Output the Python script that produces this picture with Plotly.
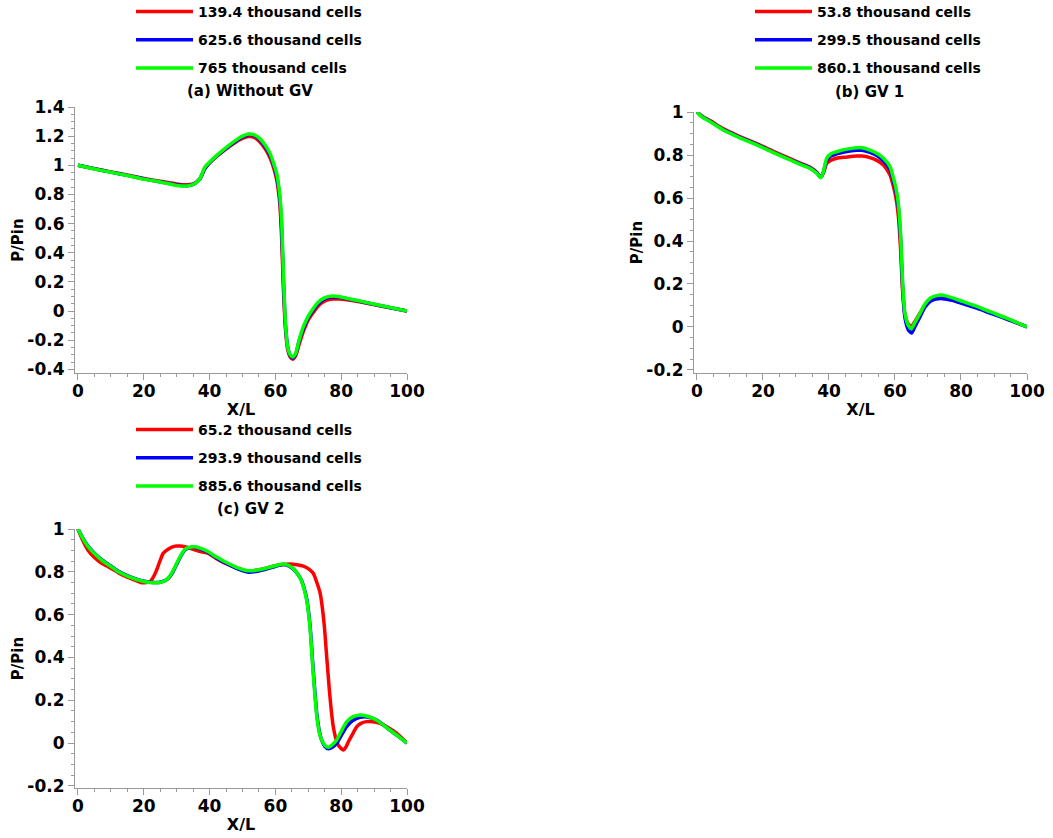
import plotly.graph_objects as go

# ---------------- data ----------------
# Panel (a) Without GV
a_names = ["139.4 thousand cells", "625.6 thousand cells", "765 thousand cells"]
a_x = [0, 5, 10, 15, 20, 25, 30, 33, 35, 37, 38.6, 41.1, 45.2, 48.7, 50, 51.8, 53, 54, 55.3, 57, 58.4,
       59.5, 60.4, 61.0, 61.4, 61.9, 62.4, 63.0, 63.7, 64.5, 65.3, 66.2, 67.2, 68.5, 70, 71.5, 73,
       74.6, 76, 77.6, 79.5, 81.7, 85, 89.8, 95, 100]
a_red = [1.0, 0.977, 0.955, 0.933, 0.91, 0.89, 0.872, 0.866, 0.872, 0.905, 0.98, 1.04, 1.115, 1.17,
         1.185, 1.198, 1.195, 1.185, 1.16, 1.11, 1.05, 0.98, 0.9, 0.81, 0.72, 0.5, 0.18, -0.1, -0.26,
         -0.315, -0.33, -0.305, -0.23, -0.14, -0.06, -0.01, 0.035, 0.063, 0.077, 0.083, 0.082, 0.077,
         0.066, 0.045, 0.022, 0.0]
a_blue = [1.0, 0.976, 0.953, 0.931, 0.907, 0.887, 0.866, 0.86, 0.869, 0.905, 0.978, 1.043, 1.12,
          1.177, 1.195, 1.21, 1.208, 1.2, 1.175, 1.125, 1.068, 1.0, 0.925, 0.84, 0.76, 0.57, 0.24,
          -0.08, -0.24, -0.305, -0.322, -0.295, -0.205, -0.12, -0.045, 0.008, 0.05, 0.078, 0.092,
          0.097, 0.094, 0.084, 0.07, 0.047, 0.023, 0.0]
a_green = [1.0, 0.975, 0.952, 0.93, 0.905, 0.886, 0.862, 0.858, 0.868, 0.905, 0.988, 1.046, 1.125,
           1.183, 1.2, 1.215, 1.213, 1.205, 1.183, 1.135, 1.08, 1.01, 0.943, 0.86, 0.783, 0.62, 0.28,
           -0.06, -0.244, -0.3, -0.315, -0.29, -0.2, -0.107, -0.035, 0.018, 0.06, 0.087, 0.099,
           0.103, 0.098, 0.087, 0.072, 0.048, 0.024, 0.0]

# Panel (b) GV 1
b_names = ["53.8 thousand cells", "299.5 thousand cells", "860.1 thousand cells"]
b_x = [0, 1.4, 4, 8, 13, 18.1, 23, 28.2, 32, 34.2, 36.3, 37.5, 38.3, 39.3, 40.5, 42.3, 45, 48.4, 50,
       52.4, 54.5, 56.5, 58.5, 59.5, 60.3, 61.0, 61.7, 62.3, 63.0, 64.0, 65.0, 66.0, 67.6, 69, 70.6,
       72.3, 74.1, 77, 80.7, 85, 88.8, 94, 100]
b_red = [1.0, 0.982, 0.96, 0.922, 0.886, 0.853, 0.818, 0.783, 0.758, 0.744, 0.72, 0.698, 0.715, 0.76,
         0.775, 0.785, 0.79, 0.795, 0.795, 0.788, 0.775, 0.753, 0.707, 0.655, 0.6, 0.52, 0.36, 0.17,
         0.06, 0.015, 0.002, 0.025, 0.065, 0.1, 0.122, 0.132, 0.134, 0.127, 0.11, 0.09, 0.068, 0.038,
         0.0]
b_blue = [1.0, 0.98, 0.957, 0.918, 0.882, 0.849, 0.814, 0.779, 0.754, 0.74, 0.717, 0.696, 0.72, 0.775,
          0.795, 0.805, 0.815, 0.822, 0.822, 0.812, 0.797, 0.772, 0.733, 0.68, 0.63, 0.56, 0.41, 0.19,
          0.045, -0.012, -0.028, 0.0, 0.048, 0.09, 0.118, 0.13, 0.133, 0.125, 0.108, 0.087, 0.065,
          0.036, 0.0]
b_green = [1.0, 0.978, 0.955, 0.916, 0.88, 0.847, 0.812, 0.777, 0.752, 0.738, 0.715, 0.694, 0.722,
           0.785, 0.805, 0.815, 0.826, 0.834, 0.834, 0.823, 0.808, 0.785, 0.746, 0.694, 0.645, 0.575,
           0.43, 0.21, 0.064, 0.009, -0.008, 0.02, 0.064, 0.105, 0.133, 0.145, 0.149, 0.138, 0.118,
           0.095, 0.071, 0.04, 0.0]

# Panel (c) GV 2
c_names = ["65.2 thousand cells", "293.9 thousand cells", "885.6 thousand cells"]
c_red_x = [0, 1.5, 3.1, 5, 7.2, 9.2, 12.3, 15, 19.4, 21.9, 22.9, 23.9, 24.9, 25.9, 27.5, 29.5, 31,
           32.5, 35, 37.5, 39.6, 42, 44.7, 48, 51.8, 55.8, 59.9, 62.4, 64.4, 66.5, 68.5, 70, 71.5,
           72.6, 73.6, 74.8, 75.6, 76.4, 77.0, 77.6, 78.3, 79.1, 80.6, 81.4, 82.2, 83.4, 84.7, 86,
           87.7, 89.5, 91.8, 94, 96.9, 100]
c_red = [1.0, 0.945, 0.9, 0.867, 0.84, 0.824, 0.795, 0.775, 0.749, 0.754, 0.775, 0.808, 0.85, 0.886,
         0.907, 0.92, 0.92, 0.917, 0.905, 0.893, 0.886, 0.862, 0.84, 0.82, 0.803, 0.812, 0.828, 0.834,
         0.836, 0.833, 0.827, 0.815, 0.793, 0.75, 0.7, 0.559, 0.403, 0.248, 0.15, 0.076, 0.025, -0.009,
         -0.033, -0.02, 0.006, 0.04, 0.076, 0.092, 0.1, 0.1, 0.092, 0.075, 0.045, 0.0]
c_x = [0, 1.5, 3.1, 5, 7.2, 10, 12.3, 15, 19.4, 22, 24.4, 26, 27.4, 28.7, 30, 31.3, 32.5, 34, 35.6,
       37.5, 39.6, 42, 44.7, 48, 51.8, 55.8, 59.9, 62.4, 64, 65.4, 67, 68, 69.5, 70.5, 71.5, 72.6,
       73.5, 74.1, 75, 76.1, 77.3, 78.6, 80, 81.7, 83.5, 85.7, 88, 90.8, 94.8, 97.5, 100]
c_blue = [1.0, 0.957, 0.919, 0.887, 0.857, 0.827, 0.802, 0.782, 0.758, 0.751, 0.75, 0.756, 0.768,
          0.795, 0.835, 0.874, 0.902, 0.913, 0.915, 0.905, 0.89, 0.866, 0.842, 0.817, 0.798, 0.807,
          0.825, 0.834, 0.828, 0.814, 0.785, 0.757, 0.675, 0.555, 0.34, 0.135, 0.045, 0.012, -0.015,
          -0.027, -0.02, -0.002, 0.035, 0.078, 0.105, 0.12, 0.122, 0.107, 0.061, 0.03, 0.0]
c_green = [1.0, 0.955, 0.917, 0.885, 0.855, 0.825, 0.8, 0.78, 0.757, 0.75, 0.749, 0.755, 0.77, 0.8,
           0.84, 0.878, 0.905, 0.915, 0.917, 0.908, 0.894, 0.87, 0.847, 0.822, 0.805, 0.812, 0.828,
           0.836, 0.83, 0.816, 0.785, 0.754, 0.668, 0.544, 0.326, 0.123, 0.04, 0.014, -0.01, -0.02,
           -0.008, 0.014, 0.055, 0.1, 0.122, 0.131, 0.125, 0.107, 0.061, 0.03, 0.0]

x_ticks = [0, 20, 40, 60, 80, 100]
x_ticktext = ["0", "20", "40", "60", "80", "100"]
ya_ticks = [-0.4, -0.2, 0, 0.2, 0.4, 0.6, 0.8, 1.0, 1.2, 1.4]
ya_ticktext = ["-0.4", "-0.2", "0", "0.2", "0.4", "0.6", "0.8", "1", "1.2", "1.4"]
yb_ticks = [-0.2, 0, 0.2, 0.4, 0.6, 0.8, 1.0]
yb_ticktext = ["-0.2", "0", "0.2", "0.4", "0.6", "0.8", "1"]

titles = ["(a) Without GV", "(b) GV 1", "(c) GV 2"]
colors = ["#ff0000", "#0000ff", "#00ff00"]

# ---------------- figure ----------------
W, H = 1053, 838
FONT = "DejaVu Sans"

def px_x(p):
    return p / W

def px_y(p):
    return 1 - p / H

fig = go.Figure()

panels = [
    ("x", "y", "legend", a_names, [(a_x, a_red), (a_x, a_blue), (a_x, a_green)]),
    ("x2", "y2", "legend2", b_names, [(b_x, b_red), (b_x, b_blue), (b_x, b_green)]),
    ("x3", "y3", "legend3", c_names, [(c_red_x, c_red), (c_x, c_blue), (c_x, c_green)]),
]

for pi, (xa, ya, lg, names, series) in enumerate(panels):
    for si, (xs, ys) in enumerate(series):
        fig.add_trace(go.Scatter(
            x=xs, y=ys, mode="lines", name=names[si],
            line=dict(color=colors[si], width=3.5, shape="spline", smoothing=0.6),
            xaxis=xa, yaxis=ya, legend=lg, legendgroup=f"{lg}_{si}",
        ))

axis_common = dict(
    showline=True, linecolor="#9a9a9a", linewidth=1.2, showgrid=False, zeroline=False,
    ticks="outside", ticklen=6, tickcolor="#9a9a9a", tickwidth=1,
    tickfont=dict(family=FONT, size=17, color="black", weight="bold"),
    mirror=False, automargin=False,
)
xminor = dict(dtick=5, ticklen=3, tickcolor="#9a9a9a", ticks="outside")
yminor = dict(dtick=0.05, ticklen=3, tickcolor="#9a9a9a", ticks="outside")
title_font = dict(family=FONT, size=16, color="black", weight="bold")

def xaxis(domain, anchor):
    return dict(axis_common, domain=domain, anchor=anchor, range=[-0.9, 100],
                tickvals=x_ticks, ticktext=x_ticktext, minor=xminor, ticklabelstandoff=-4,
                title=dict(text="X/L", font=title_font, standoff=4))

def yaxis(domain, anchor, rng, tv, tt):
    return dict(axis_common, domain=domain, anchor=anchor, range=rng,
                tickvals=tv, ticktext=tt, minor=yminor,
                title=dict(text="P/Pin", font=dict(title_font, size=15), standoff=0))

fig.update_layout(
    template="none",
    width=W, height=H, margin=dict(l=0, r=0, t=0, b=0, autoexpand=False),
    paper_bgcolor="white", plot_bgcolor="white",
    xaxis=xaxis([px_x(75), px_x(407)], "y"),
    yaxis=yaxis([px_y(373), px_y(107)], "x", [-0.425, 1.4], ya_ticks, ya_ticktext),
    xaxis2=xaxis([px_x(694), px_x(1027)], "y2"),
    yaxis2=yaxis([px_y(373), px_y(112)], "x2", [-0.214, 1.0], yb_ticks, yb_ticktext),
    xaxis3=xaxis([px_x(75), px_x(407)], "y3"),
    yaxis3=yaxis([px_y(788), px_y(529)], "x3", [-0.21, 1.0], yb_ticks, yb_ticktext),
    showlegend=True,
)

legend_common = dict(
    font=dict(family=FONT, size=14, color="black", weight="bold"),
    bgcolor="rgba(0,0,0,0)", borderwidth=0, itemwidth=57, tracegroupgap=7,
    xanchor="left", yanchor="top", orientation="v",
)
fig.update_layout(
    legend=dict(legend_common, x=px_x(131), y=px_y(-4)),
    legend2=dict(legend_common, x=px_x(750), y=px_y(-4)),
    legend3=dict(legend_common, x=px_x(131), y=px_y(414)),
)

ann_font = dict(family=FONT, size=15, color="black", weight="bold")
for txt, cx, cy in [(titles[0], 250, 91), (titles[1], 869, 92), (titles[2], 250, 509)]:
    fig.add_annotation(text=txt, x=px_x(cx), y=px_y(cy), xref="paper", yref="paper",
                       showarrow=False, font=ann_font, xanchor="center", yanchor="middle")

fig.write_html("out.html", config={"displayModeBar": False},
               post_script="document.body.style.margin='0px';document.body.style.overflow='hidden';")
